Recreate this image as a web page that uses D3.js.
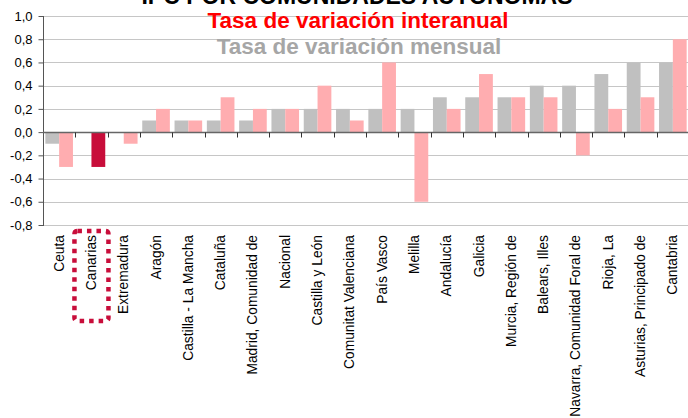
<!DOCTYPE html>
<html>
<head>
<meta charset="utf-8">
<script src="https://cdn.jsdelivr.net/npm/d3@7"></script>
<style>
  html, body { margin: 0; padding: 0; background: #fff; }
  svg { display: block; font-family: "Liberation Sans", Arial, sans-serif; }
</style>
</head>
<body>
<svg id="chart"></svg>
<script>
// ── Data ──────────────────────────────────────────────────────────────────────
const categories = [
  'Ceuta', 'Canarias', 'Extremadura', 'Aragón', 'Castilla - La Mancha',
  'Cataluña', 'Madrid, Comunidad de', 'Nacional', 'Castilla y León',
  'Comunitat Valenciana', 'País Vasco', 'Melilla', 'Andalucía', 'Galicia',
  'Murcia, Región de', 'Balears, Illes', 'Navarra, Comunidad Foral de',
  'Rioja, La', 'Asturias, Principado de', 'Cantabria'
];
// Tasa de variación mensual (grey)
const mensual = [-0.1, 0.0, 0.0, 0.1, 0.1, 0.1, 0.1, 0.2, 0.2, 0.2,
                 0.2, 0.2, 0.3, 0.3, 0.3, 0.4, 0.4, 0.5, 0.6, 0.6];
// Tasa de variación interanual (pink)
const interanual = [-0.3, -0.3, -0.1, 0.2, 0.1, 0.3, 0.2, 0.2, 0.4, 0.1,
                    0.6, -0.6, 0.2, 0.5, 0.3, 0.3, -0.2, 0.2, 0.3, 0.8];
const yTicks = [1.0, 0.8, 0.6, 0.4, 0.2, 0.0, -0.2, -0.4, -0.6, -0.8];
const highlight = 'Canarias';

const title = 'IPC POR COMUNIDADES AUTÓNOMAS';
const subRed = 'Tasa de variación interanual';
const subGrey = 'Tasa de variación mensual';

// ── Layout ────────────────────────────────────────────────────────────────────
const W = 688, H = 418;
const plot = { left: 43, right: 689, top: 16, bottom: 225 };

const svg = d3.select('#chart').attr('width', W).attr('height', H);

const x = d3.scaleBand().domain(categories).range([plot.left, plot.right]);
const x1 = d3.scaleBand().domain(['m', 'i']).range([0, x.bandwidth()])
  .paddingOuter(0.17);
const y = d3.scaleLinear().domain([-0.8, 1.0]).range([plot.bottom, plot.top]);

const fmt = d => d3.format('.1f')(d).replace('.', ',').replace('−', '-');

// ── Gridlines ─────────────────────────────────────────────────────────────────
svg.append('g')
  .selectAll('line')
  .data(yTicks.filter(d => d !== 0))
  .join('line')
    .attr('x1', plot.left).attr('x2', W)
    .attr('y1', d => Math.round(y(d)) + 0.5).attr('y2', d => Math.round(y(d)) + 0.5)
    .attr('stroke', '#c6c6c6')
    .attr('stroke-width', 1.2);

// ── Bars ──────────────────────────────────────────────────────────────────────
const rows = categories.map((c, i) => ({ c, m: mensual[i], i: interanual[i] }));

const groups = svg.append('g')
  .selectAll('g')
  .data(rows)
  .join('g')
    .attr('transform', d => `translate(${x(d.c)},0)`);

groups.append('rect')
  .attr('x', x1('m'))
  .attr('width', x1.bandwidth())
  .attr('y', d => y(Math.max(0, d.m)))
  .attr('height', d => Math.abs(y(d.m) - y(0)))
  .attr('fill', '#c0c0c0');

groups.append('rect')
  .attr('x', x1('i'))
  .attr('width', x1.bandwidth())
  .attr('y', d => y(Math.max(0, d.i)))
  .attr('height', d => Math.abs(y(d.i) - y(0)))
  .attr('fill', d => d.c === highlight ? '#c80d3a' : '#ffadb0');

// ── Axes ──────────────────────────────────────────────────────────────────────
const yAxis = svg.append('g')
  .attr('transform', `translate(${plot.left + 0.5},0)`)
  .call(d3.axisLeft(y).tickValues(yTicks).tickSize(5).tickPadding(6).tickFormat(fmt));
yAxis.select('.domain').attr('stroke', '#555').attr('d', `M0,${plot.top}V${plot.bottom + 1}`);
yAxis.selectAll('.tick line').attr('stroke', '#555');
yAxis.selectAll('.tick text')
  .attr('font-size', 13)
  .attr('fill', '#000')
  .attr('font-family', '"Liberation Sans", Arial, sans-serif');

// Zero line with category separators
const y0 = Math.round(y(0)) + 0.5;
svg.append('line')
  .attr('x1', plot.left).attr('x2', W)
  .attr('y1', y0).attr('y2', y0)
  .attr('stroke', '#666').attr('stroke-width', 1.3);

svg.append('g')
  .selectAll('line')
  .data(categories.slice(1))
  .join('line')
    .attr('x1', d => Math.round(x(d)) + 0.5).attr('x2', d => Math.round(x(d)) + 0.5)
    .attr('y1', y0).attr('y2', y0 + 5)
    .attr('stroke', '#333');

// Category labels (vertical)
svg.append('g')
  .selectAll('text')
  .data(categories)
  .join('text')
    .attr('transform', d => `translate(${x(d) + x.bandwidth() / 2 + 4.5},235) rotate(-90)`)
    .attr('text-anchor', 'end')
    .attr('font-size', 13.8)
    .attr('fill', '#000')
    .text(d => d);

// Dotted highlight box around the Canarias label
const hx = x(highlight) + x.bandwidth() / 2;
svg.append('rect')
  .attr('x', hx - 17).attr('y', 231)
  .attr('width', 34).attr('height', 90)
  .attr('rx', 3)
  .attr('fill', 'none')
  .attr('stroke', '#c80d3a')
  .attr('stroke-width', 4.5)
  .attr('stroke-dasharray', '4.5 5');

// ── Titles ────────────────────────────────────────────────────────────────────
// The main title sits mostly above the top edge, as in the source image.
svg.append('text')
  .attr('x', 357).attr('y', 4)
  .attr('text-anchor', 'middle')
  .attr('font-size', 23).attr('font-weight', 'bold')
  .attr('fill', '#000')
  .text(title);

svg.append('text')
  .attr('x', 358).attr('y', 28)
  .attr('text-anchor', 'middle')
  .attr('font-size', 22.5).attr('font-weight', 'bold')
  .attr('fill', '#ff0000')
  .text(subRed);

svg.append('text')
  .attr('x', 359).attr('y', 54)
  .attr('text-anchor', 'middle')
  .attr('font-size', 22.5).attr('font-weight', 'bold')
  .attr('fill', '#a6a6a6')
  .text(subGrey);
</script>
</body>
</html>
